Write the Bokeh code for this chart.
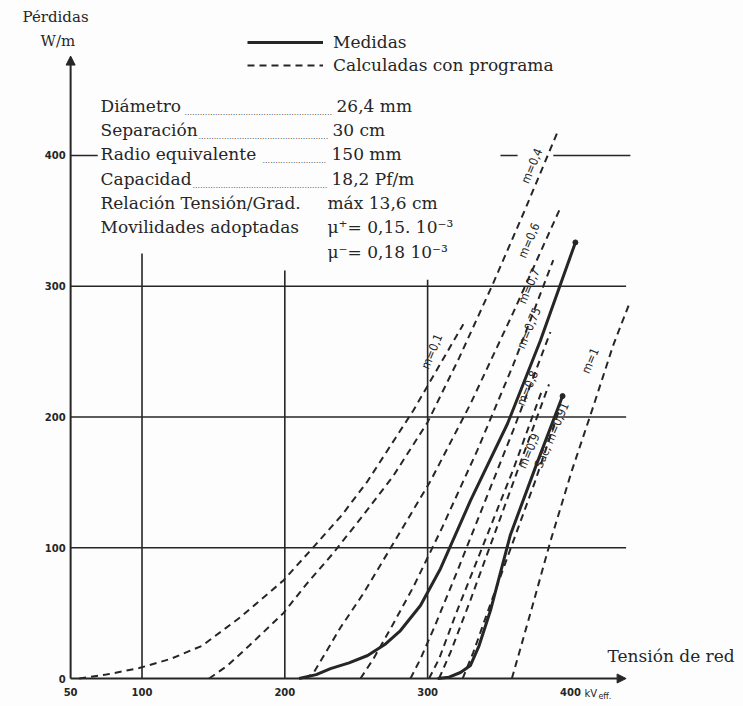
from bokeh.plotting import figure
from bokeh.models import Range1d, Label, Arrow, NormalHead, Legend, LegendItem
from bokeh.core.properties import value
from bokeh.embed import file_html
from bokeh.resources import INLINE

# ---------------- data ----------------
x_ticks = [50, 100, 200, 300, 400]
x_tick_labels = ["50", "100", "200", "300", "400"]
y_ticks = [0, 100, 200, 300, 400]
y_tick_labels = ["0", "100", "200", "300", "400"]
x_unit = "kV"
x_unit_sub = "eff."

# measured losses (solid)
med_a_kv = [210, 222, 232, 245, 258, 270, 281, 295, 309, 330, 356, 379, 403.5]
med_a_w = [0, 3, 7.6, 12, 17.6, 26, 36.7, 55.8, 84, 136, 195, 258.5, 333.5]
med_b_kv = [307, 315, 323, 330, 336, 344, 358, 376, 394.5]
med_b_w = [0, 1, 4.6, 10, 25, 52, 110, 163, 216]

# calculated losses (dashed)
calc_names = ["m=0,1", "m=0,4", "m=0,6", "m=0,7", "m=0,75", "m=0,8", "m=0,9", "Sac; m=0,91", "m=1"]
c01_kv = [56, 75, 98, 120, 142, 169, 199, 218, 240, 258, 290, 325]
c01_w = [0, 3, 8, 15, 25, 47, 75, 98, 125, 151, 205, 271]
c04_kv = [147, 160, 175, 199, 215, 234, 255, 276, 300, 322, 345, 368, 391]
c04_w = [0, 10, 25, 50, 72, 96, 125, 155, 196, 245, 300, 358, 418]
c06_kv = [214, 220, 239, 255, 272, 302, 330, 360, 393]
c06_w = [0, 4, 39, 65, 96, 151, 210, 280, 360]
c07_kv = [253, 262, 275, 290, 310, 335, 360, 388]
c07_w = [0, 15, 40, 70, 115, 175, 240, 320]
c075_kv = [288, 295, 305, 320, 340, 360, 386]
c075_w = [0, 15, 40, 80, 135, 190, 265]
c08_kv = [301, 308, 320, 340, 360, 380]
c08_w = [0, 15, 50, 105, 160, 220]
c09_kv = [308, 316, 330, 345, 365, 385]
c09_w = [0, 20, 60, 105, 165, 225]
c091_kv = [324.5, 332, 345, 360, 375, 392]
c091_w = [0, 20, 60, 105, 150, 205]
c1_kv = [359, 372, 386, 401, 416, 430, 441]
c1_w = [0, 50, 105, 159, 208, 255, 286]

param_names = ["Diámetro", "Separación", "Radio equivalente", "Capacidad",
               "Relación Tensión/Grad.", "Movilidades adoptadas", ""]
param_values = ["26,4 mm", "30 cm", "150 mm", "18,2 Pf/m", "máx 13,6 cm",
                "μ⁺= 0,15. 10⁻³", "μ⁻= 0,18  10⁻³"]

# ---------------- layout ----------------
W, H = 743, 706
INK = "#262626"
SERIF = "DejaVu Serif"


def sx(page_x):
    return page_x


def sy(page_y):
    return H - page_y


p = figure(width=W, height=H, output_backend="svg", toolbar_location=None,
           x_range=Range1d(0.9, 521.2), y_range=Range1d(-21.4, 518.5),
           x_axis_type=None, y_axis_type=None, min_border=0,
           background_fill_color="#fdfdfd", border_fill_color="#fdfdfd")
p.grid.visible = False
p.outline_line_color = None

# grid lines
grid_top = {100: 325, 200: 312, 300: 305}
for xv in x_ticks[1:4]:
    p.segment(x0=[xv], y0=[0], x1=[xv], y1=[grid_top[xv]], line_color=INK, line_width=1.6)
for yv in y_ticks[1:4]:
    p.segment(x0=[x_ticks[0]], y0=[yv], x1=[439], y1=[yv], line_color=INK, line_width=1.6)
# partial 400 line
p.segment(x0=[351, 388], y0=[400, 400], x1=[363, 442], y1=[400, 400], line_color=INK, line_width=1.6)
p.segment(x0=[x_ticks[0]], y0=[400], x1=[69], y1=[400], line_color=INK, line_width=1.6)

# axes
p.add_layout(Arrow(end=NormalHead(size=9, fill_color=INK, line_color=INK),
                   x_start=x_ticks[0], y_start=0, x_end=x_ticks[0], y_end=476,
                   line_color=INK, line_width=2))
p.add_layout(Arrow(end=NormalHead(size=9, fill_color=INK, line_color=INK),
                   x_start=x_ticks[0], y_start=0, x_end=439, y_end=0,
                   line_color=INK, line_width=2))

p.text(x=x_ticks, y=[0] * len(x_ticks), text=x_tick_labels, x_offset=0, y_offset=9,
       text_align="center", text_baseline="top", text_font=value("DejaVu Sans"),
       text_font_style="bold", text_font_size="10px", text_color=INK)
p.text(x=[x_ticks[-1]], y=[0], text=[x_unit], x_offset=14, y_offset=9,
       text_align="left", text_baseline="top", text_font=value("DejaVu Sans"),
       text_font_size="10px", text_color=INK)
p.text(x=[x_ticks[-1]], y=[0], text=[x_unit_sub], x_offset=28, y_offset=13,
       text_align="left", text_baseline="top", text_font=value("DejaVu Sans"),
       text_font_size="8px", text_color=INK)
p.text(x=[x_ticks[0]] * len(y_ticks), y=y_ticks, text=y_tick_labels, x_offset=-5,
       y_offset=0, text_align="right", text_baseline="middle",
       text_font=value("DejaVu Sans"), text_font_style="bold", text_font_size="10px",
       text_color=INK)

# curves
dash = "7 5"
r_calc = None
calc_series = [(c01_kv, c01_w), (c04_kv, c04_w), (c06_kv, c06_w), (c07_kv, c07_w),
               (c075_kv, c075_w), (c08_kv, c08_w), (c09_kv, c09_w), (c091_kv, c091_w),
               (c1_kv, c1_w)]
for kv, w in calc_series:
    r = p.line(kv, w, line_color=INK, line_width=2, line_dash=dash)
    if r_calc is None:
        r_calc = r
r_med = p.line(med_a_kv, med_a_w, line_color=INK, line_width=3)
p.line(med_b_kv, med_b_w, line_color=INK, line_width=3)
p.scatter([med_a_kv[-1], med_b_kv[-1]], [med_a_w[-1], med_b_w[-1]], size=5, color=INK)

# curve labels (rotated along lines)
lab_x = [303, 373, 371, 371, 371, 370, 371, 387, 414]
lab_y = [250, 392, 335, 300, 268, 222, 174, 186, 243]
p.text(x=lab_x, y=lab_y, text=calc_names, angle=1.17, text_align="center",
       text_baseline="middle", text_font=value("DejaVu Sans Condensed"),
       text_font_size="12px", text_color=INK)

# legend
legend = Legend(items=[LegendItem(label="Medidas", renderers=[r_med]),
                       LegendItem(label="Calculadas con programa", renderers=[r_calc])],
                location=(sx(247), sy(76)), orientation="vertical",
                background_fill_alpha=0, border_line_alpha=0, glyph_width=76,
                glyph_height=22, label_standoff=10, spacing=1, padding=0, margin=0,
                label_text_font=SERIF, label_text_font_size="17px", label_text_color=INK)
p.add_layout(legend)


def add_label(px_, py_, txt, size="17px", baseline="middle"):
    p.add_layout(Label(x=sx(px_), y=sy(py_), x_units="screen", y_units="screen", text=txt,
                       text_font=SERIF, text_font_size=size, text_baseline=baseline,
                       text_color=INK))


# titles
add_label(22, 16, "Pérdidas", "15px")
add_label(40, 40, "W/m", "15px")
add_label(607, 655, "Tensión de red")

# parameter block
row_y = [105, 129, 153, 178, 202, 226, 251]
val_x = [336, 332, 331, 331, 327, 327, 327]
for i, (nm, vl) in enumerate(zip(param_names, param_values)):
    if nm:
        add_label(100, row_y[i], nm)
    add_label(val_x[i], row_y[i], vl)

dot_start = [184, 198, 262, 192]
for i, ds in enumerate(dot_start):
    add_label(ds, row_y[i] + 7, "." * int((val_x[i] - ds - 3) / 2.55), "8px", "alphabetic")

open("out.html", "w").write(file_html(p, INLINE))
